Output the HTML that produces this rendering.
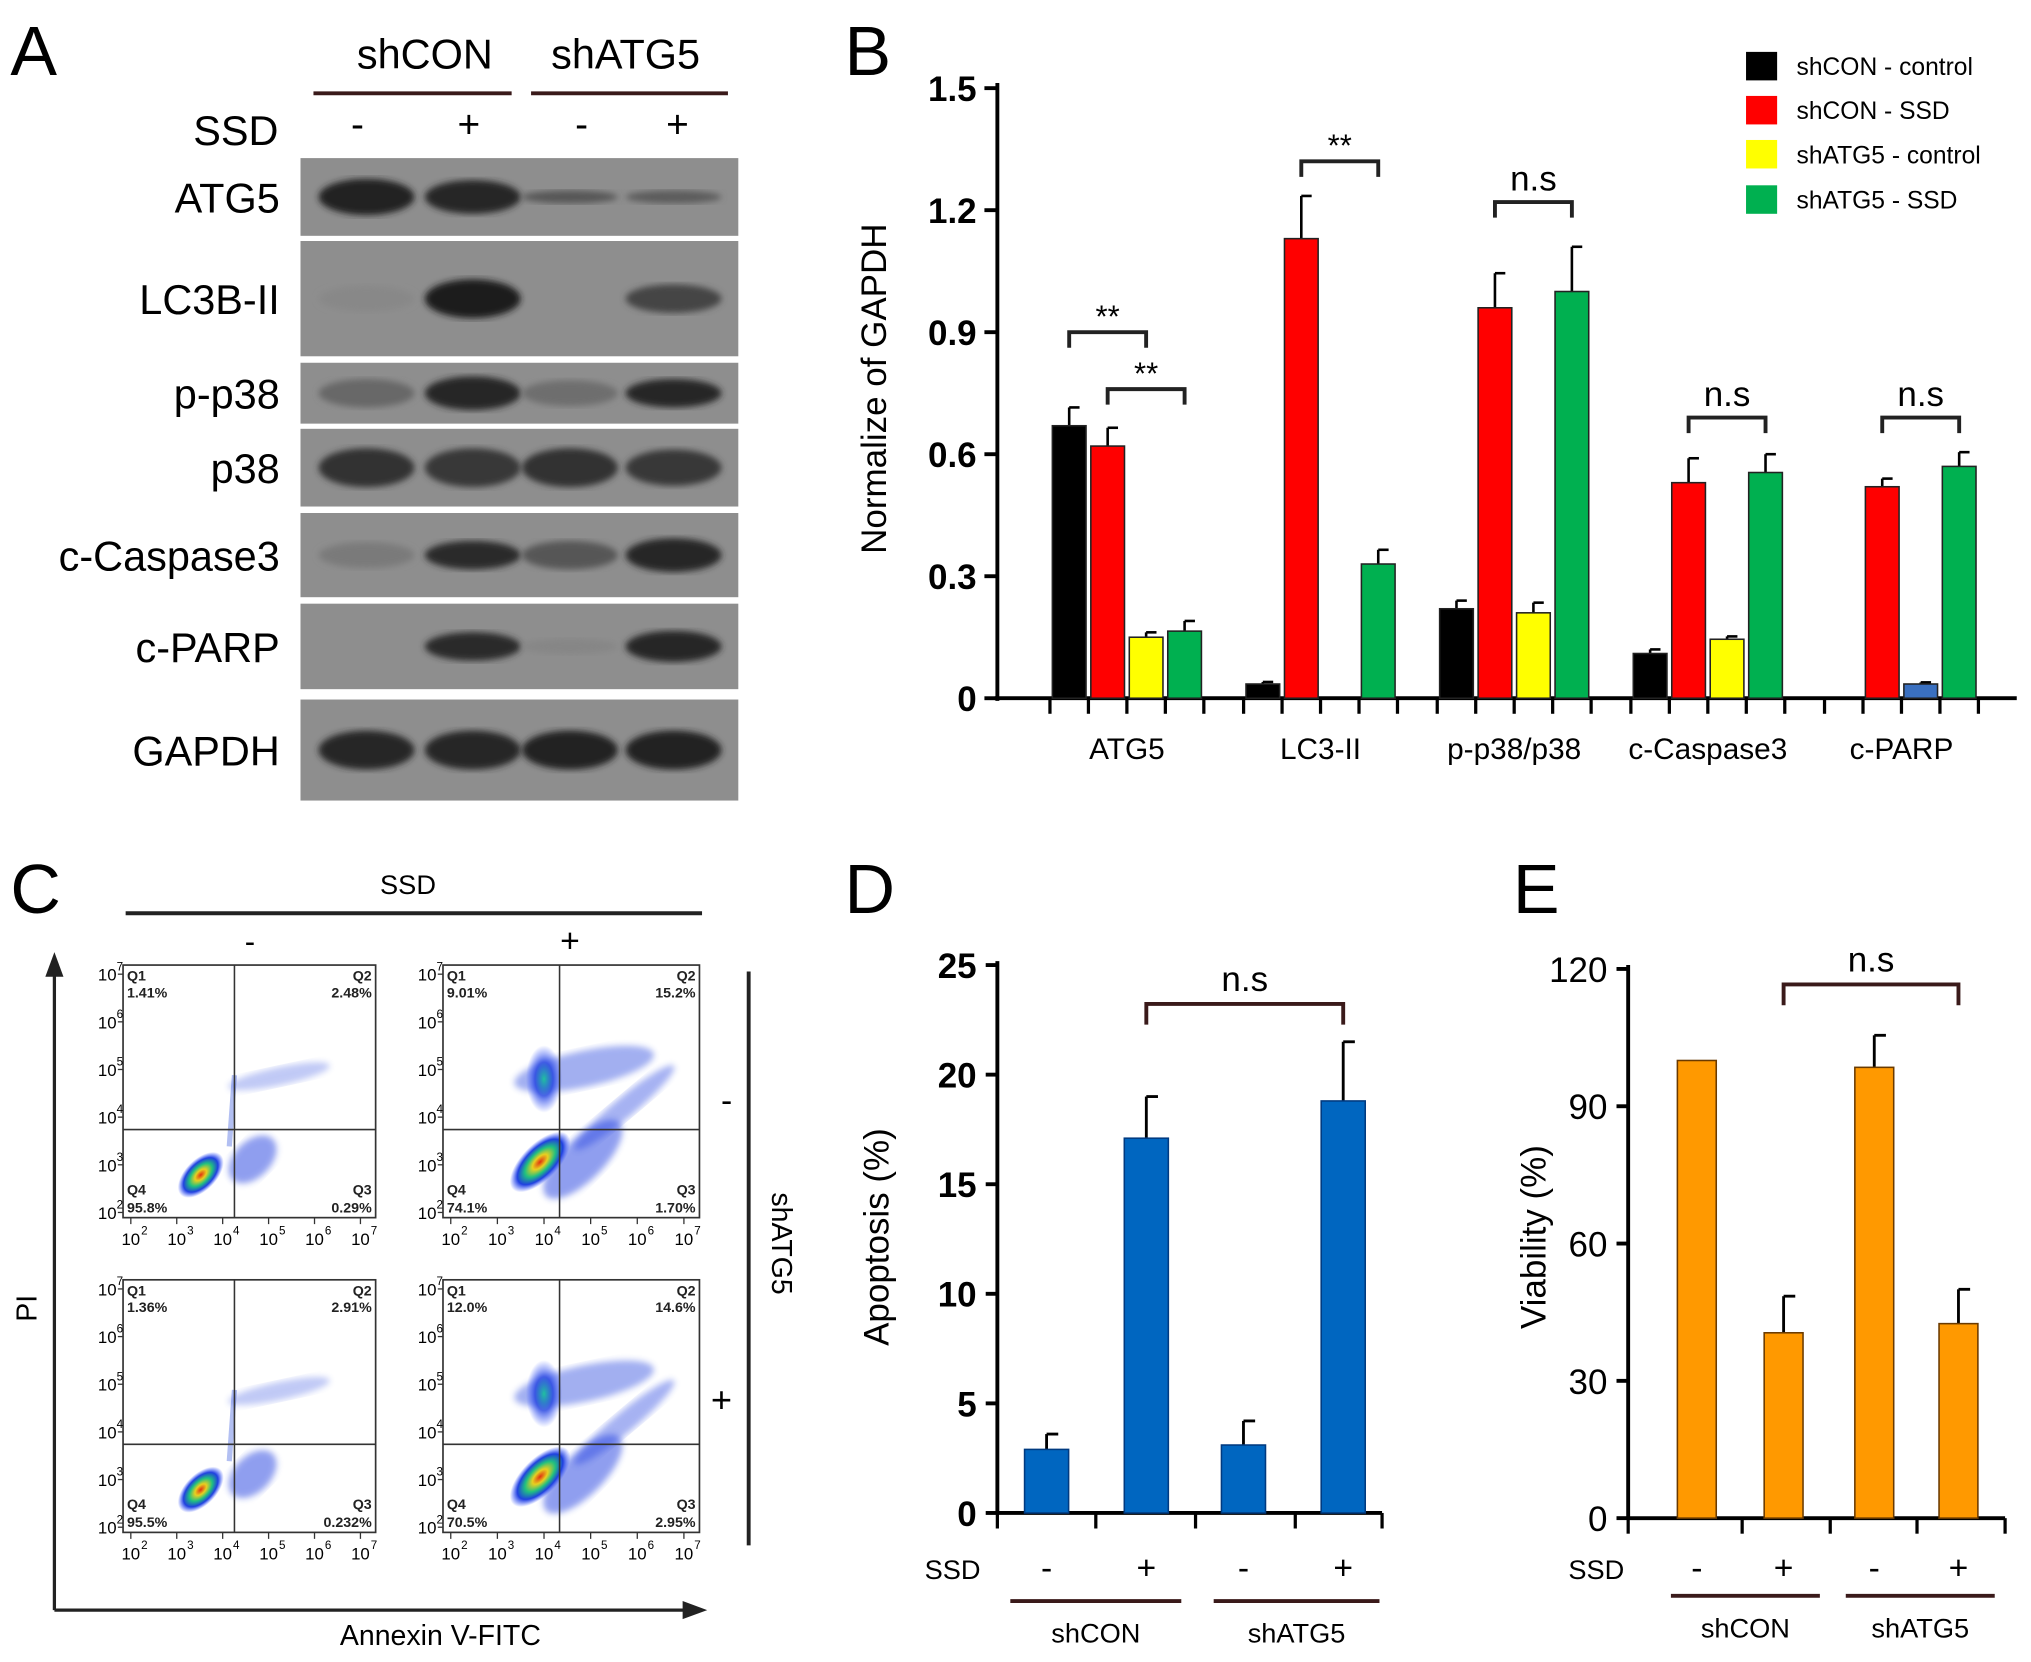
<!DOCTYPE html>
<html><head><meta charset="utf-8">
<style>html,body{margin:0;padding:0;background:#fff}svg{display:block;font-family:"Liberation Sans",Arial,sans-serif}</style>
</head><body>
<svg id="fig" width="2031" height="1662" viewBox="0 0 1568 1283" xmlns="http://www.w3.org/2000/svg">
<defs>
<radialGradient id="dens" cx="50%" cy="50%" r="50%">
<stop offset="0" stop-color="#e03010"/><stop offset="0.25" stop-color="#e8d020"/><stop offset="0.5" stop-color="#20c080"/><stop offset="0.75" stop-color="#2040e0"/><stop offset="1" stop-color="#3050ff" stop-opacity="0"/>
</radialGradient>
<radialGradient id="dens2" cx="50%" cy="50%" r="50%">
<stop offset="0" stop-color="#20c0a0"/><stop offset="0.5" stop-color="#2040e0" stop-opacity="0.8"/><stop offset="1" stop-color="#3050ff" stop-opacity="0"/>
</radialGradient>
<filter id="blur2"><feGaussianBlur stdDeviation="2.5"/></filter>
</defs>

<g id="panelA">
<text x="8" y="58" font-size="54">A</text>
<text x="328" y="53" font-size="32" text-anchor="middle">shCON</text>
<text x="483" y="53" font-size="32" text-anchor="middle">shATG5</text>
<line x1="242" y1="72" x2="395" y2="72" stroke="#3a1a1a" stroke-width="3"/>
<line x1="410" y1="72" x2="562" y2="72" stroke="#3a1a1a" stroke-width="3"/>
<text x="215" y="112" font-size="32" text-anchor="end">SSD</text>
<text x="276" y="106" font-size="30" text-anchor="middle">-</text>
<text x="362" y="106" font-size="30" text-anchor="middle">+</text>
<text x="449" y="106" font-size="30" text-anchor="middle">-</text>
<text x="523" y="106" font-size="30" text-anchor="middle">+</text>
<g id="blots"></g>
</g>

<g id="panelB">
<text x="652" y="58" font-size="54">B</text>
<text transform="translate(684,300) rotate(-90)" font-size="27" text-anchor="middle">Normalize of GAPDH</text>
<g id="bAxes"></g><g id="bBars"></g>
<g font-size="19">
<rect x="1348" y="40" width="24" height="22" fill="#000"/><text x="1387" y="58">shCON - control</text>
<rect x="1348" y="74" width="24" height="22" fill="#f00"/><text x="1387" y="92">shCON - SSD</text>
<rect x="1348" y="108" width="24" height="22" fill="#ff0"/><text x="1387" y="126">shATG5 - control</text>
<rect x="1348" y="143" width="24" height="22" fill="#00b050"/><text x="1387" y="161">shATG5 - SSD</text>
</g>
</g>

<g id="panelC">
<text x="8" y="705" font-size="54">C</text>
<text x="315" y="690" font-size="21" text-anchor="middle">SSD</text>
<line x1="97" y1="705" x2="542" y2="705" stroke="#222" stroke-width="3"/>
<text x="193" y="735" font-size="24" text-anchor="middle">-</text>
<text x="440" y="735" font-size="26" text-anchor="middle">+</text>
<line x1="42" y1="1243" x2="42" y2="745" stroke="#222" stroke-width="2.5"/>
<polygon points="42,735 35,754 49,754" fill="#222"/>
<line x1="42" y1="1243" x2="535" y2="1243" stroke="#222" stroke-width="2.5"/>
<polygon points="546,1243 527,1236 527,1250" fill="#222"/>
<text transform="translate(28,1010) rotate(-90)" font-size="22" text-anchor="middle">PI</text>
<text x="340" y="1270" font-size="22" text-anchor="middle">Annexin V-FITC</text>
<line x1="578" y1="750" x2="578" y2="1193" stroke="#222" stroke-width="3"/>
<text x="561" y="858" font-size="26" text-anchor="middle">-</text>
<text x="557" y="1090" font-size="28" text-anchor="middle">+</text>
<text transform="translate(596,960) rotate(90)" font-size="22" text-anchor="middle">shATG5</text>
<g id="flow"></g>
</g>

<g id="panelD">
<text x="652" y="705" font-size="54">D</text>
<text transform="translate(686,955) rotate(-90)" font-size="27" text-anchor="middle">Apoptosis (%)</text>
<g id="dChart"></g>
</g>

<g id="panelE">
<text x="1168" y="705" font-size="54">E</text>
<text transform="translate(1193,955) rotate(-90)" font-size="27" text-anchor="middle">Viability (%)</text>
<g id="eChart"></g>
</g>
</svg>

<script>
const NS='http://www.w3.org/2000/svg';
function mk(tag,attrs,parent){const e=document.createElementNS(NS,tag);for(const k in attrs)e.setAttribute(k,attrs[k]);parent.appendChild(e);return e;}

const blotNames=['ATG5','LC3B-II','p-p38','p38','c-Caspase3','c-PARP','GAPDH'];
const blotIntensity=[[0.9,0.85,0.45,0.4],[0.03,0.95,0,0.6],[0.3,0.85,0.25,0.85],[0.75,0.7,0.75,0.7],[0.15,0.8,0.45,0.85],[0,0.8,0.05,0.85],[0.85,0.85,0.9,0.9]];
const blotThick=[[14,13,5,5],[10,15,0,11],[11,13,10,11],[15,15,15,14],[10,11,11,13],[0,11,6,12],[15,15,15,15]];
const blotRows=[[122,182],[186,275],[280,327],[331,391],[396,461],[466,532],[540,618]];
const laneX=[283,365,440,520];
const gA=document.getElementById('blots');
blotNames.forEach((n,i)=>{
  const [y0,y1]=blotRows[i];
  const r=mk('rect',{x:232,y:y0,width:338,height:y1-y0,fill:'#8e8e8e'},gA);
  
  
  const t=mk('text',{x:216,y:(y0+y1)/2+12,'font-size':32,'text-anchor':'end'},gA);t.textContent=n;
  
  
  blotIntensity[i].forEach((v,j)=>{
    if(v<=0)return;
    const c=Math.round(140-120*v);
    const b=mk('ellipse',{cx:laneX[j],cy:(y0+y1)/2,rx:37,ry:blotThick[i][j],fill:'rgb('+c+','+c+','+c+')',filter:'url(#blur2)'},gA);
    
    
  });
});

const bCategories=['ATG5','LC3-II','p-p38/p38','c-Caspase3','c-PARP'];
const bShConCtrl=[0.67,0.035,0.22,0.11,null];
const bShConSSD=[0.62,1.13,0.96,0.53,0.52];
const bShAtgCtrl=[0.15,null,0.21,0.145,0.035];
const bShAtgSSD=[0.165,0.33,1.0,0.555,0.57];
const bErrShConCtrl=[0.045,0.005,0.02,0.01,0];
const bErrShConSSD=[0.045,0.105,0.085,0.06,0.02];
const bErrShAtgCtrl=[0.012,0,0.025,0.007,0.004];
const bErrShAtgSSD=[0.025,0.035,0.11,0.045,0.035];
const bTicks=[0,0.3,0.6,0.9,1.2,1.5];
const bTickLabels=['0','0.3','0.6','0.9','1.2','1.5'];
const bSig=[['**',0,2,0.9],['**',1,3,0.76],['**',1,3,1.32,1],['n.s',1,3,1.22,2],['n.s',1,3,0.69,3],['n.s',1,3,0.69,4]];

const bY=v=>539-(v/1.5)*471;
const bX=(g,k)=>870+g*149.5+(k-1.5)*29.7;
const gB=document.getElementById('bAxes');
mk('line',{x1:770,y1:64,x2:770,y2:541,stroke:'#000','stroke-width':3},gB);
mk('line',{x1:768,y1:539,x2:1557,y2:539,stroke:'#000','stroke-width':3},gB);
bTicks.forEach((t,i)=>{
  mk('line',{x1:760,y1:bY(t),x2:770,y2:bY(t),stroke:'#000','stroke-width':3},gB);
  const tx=mk('text',{x:754,y:bY(t)+10,'font-size':27,'font-weight':'bold','text-anchor':'end'},gB);tx.textContent=bTickLabels[i];
  
  
});
bCategories.forEach((c,g)=>{
  for(let k=0;k<=4;k++){const x=bX(g,k)-14.85;mk('line',{x1:x,y1:539,x2:x,y2:551,stroke:'#000','stroke-width':2.5},gB);}
  const t=mk('text',{x:870+g*149.5,y:586,'font-size':23,'text-anchor':'middle'},gB);t.textContent=c;
  
  
});
const gBB=document.getElementById('bBars');
const series=[[bShConCtrl,bErrShConCtrl,'#000'],[bShConSSD,bErrShConSSD,'#f00'],[bShAtgCtrl,bErrShAtgCtrl,'#ff0'],[bShAtgSSD,bErrShAtgSSD,'#00b050']];
series.forEach(([vals,errs,col],k)=>{
  vals.forEach((v,g)=>{
    if(v==null)return;
    let c=col; if(k==2&&g==4)c='#3a70c0';
    const x=bX(g,k), y=bY(v), e=bY(v+errs[g]);
    mk('line',{x1:x,y1:y,x2:x,y2:e,stroke:'#000','stroke-width':2},gBB);
    mk('line',{x1:x,y1:e,x2:x+8,y2:e,stroke:'#000','stroke-width':2},gBB);
    const r=mk('rect',{x:x-13,y:y,width:26,height:539-y,fill:c,stroke:'#222','stroke-width':1.2},gBB);
    
    
  });
});
bSig.forEach(s=>{
  const g=s.length>4?s[4]:0;
  const x1=bX(g,s[1]), x2=bX(g,s[2]), y=bY(s[3]);
  mk('path',{d:`M${x1},${y+12}V${y}H${x2}V${y+12}`,fill:'none',stroke:'#222','stroke-width':3},gBB);
  const t=mk('text',{x:(x1+x2)/2,y:y-(s[0]=='**'?4:9),'font-size':s[0]=='**'?24:27,'text-anchor':'middle'},gBB);t.textContent=s[0];
  
  
});

const flowQ1=['1.41%','9.01%','1.36%','12.0%'];
const flowQ2=['2.48%','15.2%','2.91%','14.6%'];
const flowQ3=['0.29%','1.70%','0.232%','2.95%'];
const flowQ4=['95.8%','74.1%','95.5%','70.5%'];
const flowBoxes=[[95,745],[342,745],[95,988],[342,988]];
const gF=document.getElementById('flow');
flowBoxes.forEach(([bx,by],i)=>{
  const w=i%2?198:195,h=195;
  const g=mk('g',{},gF);
  
  
  mk('rect',{x:bx,y:by,width:w,height:h,fill:'#fff',stroke:'#333','stroke-width':1.3},g);
  const qx=bx+(i%2?90:86), qy=by+127;
  const hi=i%2==1;
  mk('ellipse',{cx:bx+(hi?108:100),cy:by+150,rx:hi?40:22,ry:hi?16:14,fill:'#2040e0',opacity:0.5,transform:`rotate(-45 ${bx+(hi?108:100)} ${by+150})`,filter:'url(#blur2)'},g);
  mk('ellipse',{cx:bx+(hi?75:60),cy:by+(hi?152:162),rx:hi?30:22,ry:hi?14:12,fill:'url(#dens)',transform:`rotate(-45 ${bx+(hi?75:60)} ${by+(hi?152:162)})`},g);
  mk('ellipse',{cx:bx+(hi?110:120),cy:by+(hi?80:88),rx:hi?55:40,ry:hi?14:7,fill:'#3050e0',opacity:hi?0.45:0.3,filter:'url(#blur2)',transform:`rotate(-12 ${bx+110} ${by+85})`},g);
  if(hi){mk('ellipse',{cx:bx+78,cy:by+88,rx:14,ry:26,fill:'url(#dens2)'},g);
    mk('ellipse',{cx:bx+140,cy:by+110,rx:50,ry:8,fill:'#2040e0',opacity:0.4,transform:`rotate(-40 ${bx+140} ${by+110})`,filter:'url(#blur2)'},g);}
  else mk('line',{x1:bx+82,y1:by+140,x2:bx+86,y2:by+85,stroke:'#4060e0','stroke-width':4,opacity:0.4},g);
  mk('line',{x1:qx,y1:by,x2:qx,y2:by+h,stroke:'#333','stroke-width':1.2},g);
  mk('line',{x1:bx,y1:qy,x2:bx+w,y2:qy,stroke:'#333','stroke-width':1.2},g);
  const lab=(x,y,s,a)=>{const t=mk('text',{x:x,y:y,'font-size':11,'font-weight':'bold','text-anchor':a||'start',fill:'#222'},g);t.textContent=s;};
  lab(bx+3,by+12,'Q1');lab(bx+3,by+25,flowQ1[i]);
  lab(bx+w-3,by+12,'Q2','end');lab(bx+w-3,by+25,flowQ2[i],'end');
  lab(bx+3,by+h-18,'Q4');lab(bx+3,by+h-4,flowQ4[i]);
  lab(bx+w-3,by+h-18,'Q3','end');lab(bx+w-3,by+h-4,flowQ3[i],'end');
  for(let k=0;k<6;k++){
    const yy=by+h-k*h/5.3-4, xx=bx+6+k*w/5.5;
    const t=mk('text',{x:bx-5,y:yy+5,'font-size':13,'text-anchor':'end'},g);t.textContent='10';
    const s=mk('text',{x:bx-5,y:yy-3,'font-size':9},g);s.textContent=(k+2);
    const t2=mk('text',{x:xx,y:by+h+21,'font-size':13,'text-anchor':'middle'},g);t2.textContent='10';
    const s2=mk('text',{x:xx+8,y:by+h+13,'font-size':9},g);s2.textContent=(k+2);
    mk('line',{x1:xx,y1:by+h,x2:xx,y2:by+h+5,stroke:'#333'},g);
    mk('line',{x1:bx-4,y1:yy,x2:bx,y2:yy,stroke:'#333'},g);
  }
});

const dValues=[2.9,17.1,3.1,18.8];
const dErrors=[0.7,1.9,1.1,2.7];
const dTicks=[0,5,10,15,20,25];
const dSSD=['-','+','-','+'];
const eValues=[100,40.5,98.5,42.5];
const eErrors=[0,8,7,7.5];
const eTicks=[0,30,60,90,120];
const eSSD=['-','+','-','+'];

function barPanel(gid,o){
  const g=document.getElementById(gid);
  const Y=v=>o.y0-(v/o.max)*(o.y0-o.yTop);
  mk('line',{x1:o.ax,y1:o.yTop-3,x2:o.ax,y2:o.y0+1,stroke:'#000','stroke-width':3},g);
  mk('line',{x1:o.ax-1,y1:o.y0,x2:o.xEnd,y2:o.y0,stroke:'#000','stroke-width':3},g);
  o.ticks.forEach(t=>{
    mk('line',{x1:o.ax-9,y1:Y(t),x2:o.ax,y2:Y(t),stroke:'#000','stroke-width':3},g);
    const tx=mk('text',{x:o.ax-16,y:Y(t)+10,'font-size':27,'font-weight':o.bold?'bold':'normal','text-anchor':'end'},g);tx.textContent=t;
    
    
  });
  o.xTicks.forEach(x=>mk('line',{x1:x,y1:o.y0,x2:x,y2:o.y0+12,stroke:'#000','stroke-width':2.5},g));
  o.values.forEach((v,i)=>{
    const x=o.cx[i],y=Y(v),e=Y(v+o.errors[i]);
    if(o.errors[i]>0){mk('line',{x1:x,y1:y,x2:x,y2:e,stroke:'#000','stroke-width':2.2},g);
    mk('line',{x1:x,y1:e,x2:x+9,y2:e,stroke:'#000','stroke-width':2.2},g);}
    const r=mk('rect',{x:x-o.bw/2,y:y,width:o.bw,height:o.y0-y,fill:o.color,stroke:o.stroke,'stroke-width':1.2},g);
    
    
    const s=mk('text',{x:x,y:o.ssdY,'font-size':26,'text-anchor':'middle'},g);s.textContent=o.ssd[i];
  });
  const st=mk('text',{x:o.ssdX,y:o.ssdY,'font-size':21,'text-anchor':'end'},g);st.textContent='SSD';
  o.groups.forEach(gr=>{
    mk('line',{x1:gr[0],y1:o.lineY,x2:gr[1],y2:o.lineY,stroke:'#3a1a1a','stroke-width':3},g);
    const t=mk('text',{x:(gr[0]+gr[1])/2,y:o.lineY+32,'font-size':21,'text-anchor':'middle'},g);t.textContent=gr[2];
  });
  const bx1=o.cx[1],bx2=o.cx[3],by=o.brY;
  mk('path',{d:`M${bx1},${by+16}V${by}H${bx2}V${by+16}`,fill:'none',stroke:'#3a1a1a','stroke-width':3},g);
  const t=mk('text',{x:(bx1+bx2)/2,y:by-10,'font-size':27,'text-anchor':'middle'},g);t.textContent='n.s';
}
barPanel('dChart',{ax:770,y0:1168,yTop:745,max:25,ticks:dTicks,values:dValues,errors:dErrors,cx:[808,885,960,1037],bw:34,color:'#0066c0',stroke:'#003a80',xEnd:1067,xTicks:[770,846,923,1000,1067],ssd:dSSD,ssdX:757,ssdY:1219,lineY:1236,groups:[[780,912,'shCON'],[937,1065,'shATG5']],brY:775,bold:true});
barPanel('eChart',{ax:1257,y0:1172,yTop:748,max:120,ticks:eTicks,values:eValues,errors:eErrors,cx:[1310,1377,1447,1512],bw:30,color:'#ff9900',stroke:'#6a3a00',xEnd:1548,xTicks:[1257,1345,1413,1480,1548],ssd:eSSD,ssdX:1254,ssdY:1219,lineY:1232,groups:[[1290,1405,'shCON'],[1425,1540,'shATG5']],brY:760,bold:false});
</script>
</body></html>
